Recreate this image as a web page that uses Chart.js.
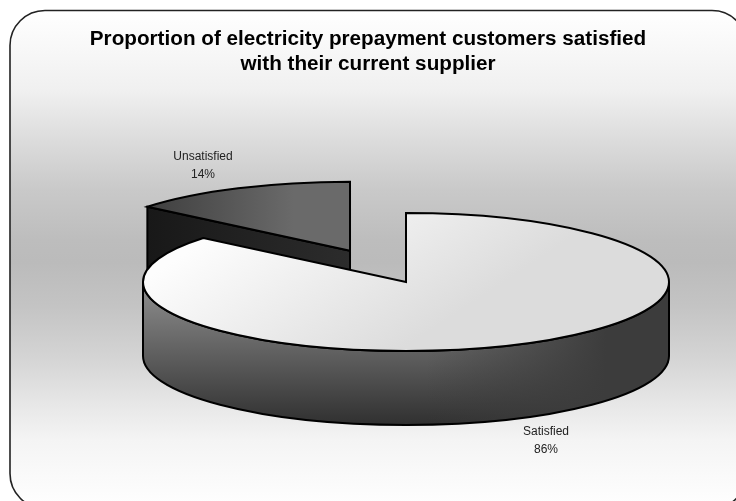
<!DOCTYPE html>
<html>
<head>
<meta charset="utf-8">
<title>Prepayment customers</title>
<script src="https://cdn.jsdelivr.net/npm/chart.js@4/dist/chart.umd.min.js"></script>
<style>
  html, body { margin: 0; padding: 0; background: #fff; }
  canvas { display: block; }
</style>
</head>
<body>
<canvas id="myChart" width="736" height="501"></canvas>
<script>
const categorias = ["Satisfied", "Unsatisfied"];
const valores = [86, 14];
const titulo = ["Proportion of electricity prepayment customers satisfied", "with their current supplier"];

// Geometria del pastel 3D (centro en pantalla, radios y grosor)
const PIE_CX = 406;
const PIE_CY = 282;
const PIE_R = 263;
const PIE_RY = 69;
const DEPTH = 74;
const EXPLODE = 0.5; // solo Unsatisfied va separado
const K = PIE_RY / PIE_R;

function offsetDe(arc, i) {
  if (i === 0) return { x: 0, y: 0 };
  const mid = (arc.startAngle + arc.endAngle) / 2;
  return { x: Math.cos(mid) * PIE_R * EXPLODE, y: Math.sin(mid) * PIE_RY * EXPLODE };
}

function gradienteCara(ctx, i, arc) {
  // y de pantalla -> y sin aplastar, porque la cara se pinta dentro del scale
  const sinAplastar = (y) => arc.y + (y - PIE_CY) / K;
  let g;
  if (i === 0) {
    const x0 = 205 - PIE_CX + arc.x;
    const y0 = sinAplastar(240);
    g = ctx.createLinearGradient(x0, y0, x0 + 313, y0 + 125);
    g.addColorStop(0, "#fdfdfd");
    g.addColorStop(1, "#dcdcdc");
  } else {
    g = ctx.createLinearGradient(147 - PIE_CX + arc.x, 0, 350 - PIE_CX + arc.x, 0);
    g.addColorStop(0, "#2e2e2e");
    g.addColorStop(1, "#6a6a6a");
  }
  return g;
}

function paredExterior(ctx, cx, cy, a0, a1) {
  ctx.beginPath();
  ctx.ellipse(cx, cy, PIE_R, PIE_RY, 0, a0, a1);
  ctx.ellipse(cx, cy + DEPTH, PIE_R, PIE_RY, 0, a1, a0, true);
  ctx.closePath();

  const v = ctx.createLinearGradient(0, cy + 5, 0, cy + PIE_RY + DEPTH);
  v.addColorStop(0, "#8c8c8c");
  v.addColorStop(1, "#303030");
  ctx.fillStyle = v;
  ctx.fill();

  const h = ctx.createLinearGradient(cx + 20, 0, cx + 200, 0);
  h.addColorStop(0, "rgba(60,60,60,0)");
  h.addColorStop(1, "rgba(60,60,60,1)");
  ctx.fillStyle = h;
  ctx.fill();
  ctx.stroke();
}

function paredCorte(ctx, cx, cy, a) {
  const x = cx + Math.cos(a) * PIE_R;
  const y = cy + Math.sin(a) * PIE_RY;
  const g = ctx.createLinearGradient(x, 0, cx, 0);
  g.addColorStop(0, "#181818");
  g.addColorStop(1, "#2c2c2c");
  ctx.beginPath();
  ctx.moveTo(cx, cy);
  ctx.lineTo(x, y);
  ctx.lineTo(x, y + DEPTH);
  ctx.lineTo(cx, cy + DEPTH);
  ctx.closePath();
  ctx.fillStyle = g;
  ctx.fill();
  ctx.stroke();
}

const pastel3d = {
  id: "pastel3d",
  beforeDraw(chart) {
    const ctx = chart.ctx;
    ctx.save();
    ctx.beginPath();
    ctx.roundRect(10, 10.5, 737, 498, 35);
    const g = ctx.createLinearGradient(0, 11, 0, 509);
    g.addColorStop(0, "#ffffff");
    g.addColorStop(0.159, "#f0f0f0");
    g.addColorStop(0.259, "#dcdcdc");
    g.addColorStop(0.359, "#c9c9c9");
    g.addColorStop(0.46, "#bdbdbd");
    g.addColorStop(0.504, "#bbbbbb");
    g.addColorStop(0.594, "#c4c4c4");
    g.addColorStop(0.695, "#d4d4d4");
    g.addColorStop(0.795, "#e8e8e8");
    g.addColorStop(0.861, "#f4f4f4");
    g.addColorStop(0.962, "#fcfcfc");
    g.addColorStop(1, "#ffffff");
    ctx.fillStyle = g;
    ctx.fill();
    ctx.lineWidth = 1.6;
    ctx.strokeStyle = "#222";
    ctx.stroke();
    ctx.restore();
  },
  beforeDatasetsDraw(chart) {
    const ctx = chart.ctx;
    const arcs = chart.getDatasetMeta(0).data;
    ctx.save();
    ctx.lineWidth = 2;
    ctx.strokeStyle = "#000";
    ctx.lineJoin = "miter";
    // Unsatisfied queda detras, se pinta primero
    for (let i = arcs.length - 1; i >= 0; i--) {
      const arc = arcs[i];
      const off = offsetDe(arc, i);
      const cx = PIE_CX + off.x;
      const cy = PIE_CY + off.y;

      const a0 = Math.max(arc.startAngle, 0);
      const a1 = Math.min(arc.endAngle, Math.PI);
      if (a1 > a0) paredExterior(ctx, cx, cy, a0, a1);
      if (-Math.cos(arc.startAngle) > 0.01) paredCorte(ctx, cx, cy, arc.startAngle);

      ctx.save();
      ctx.translate(cx, cy);
      ctx.scale(1, K);
      ctx.translate(-arc.x, -arc.y);
      arc.draw(ctx);
      ctx.restore();

      ctx.beginPath();
      ctx.moveTo(cx, cy);
      ctx.ellipse(cx, cy, PIE_R, PIE_RY, 0, arc.startAngle, arc.endAngle);
      ctx.closePath();
      ctx.stroke();
    }
    ctx.restore();
    return false;
  },
  afterDraw(chart) {
    const ctx = chart.ctx;
    const arcs = chart.getDatasetMeta(0).data;
    const total = valores.reduce((a, b) => a + b, 0);
    ctx.save();
    ctx.font = '12px "Liberation Sans", Arial, sans-serif';
    ctx.fillStyle = "#222";
    ctx.textAlign = "center";
    ctx.textBaseline = "middle";
    arcs.forEach((arc, i) => {
      const off = offsetDe(arc, i);
      const mid = (arc.startAngle + arc.endAngle) / 2;
      const baseX = PIE_CX + off.x + Math.cos(mid) * PIE_R;
      const baseY = PIE_CY + off.y + Math.sin(mid) * PIE_RY + (i === 0 ? DEPTH : 0);
      const x = baseX + (i === 0 ? 28 : -35);
      const y = baseY + (i === 0 ? 13 : -32);
      ctx.fillText(categorias[i], x, y);
      ctx.fillText(Math.round((valores[i] / total) * 100) + "%", x, y + 18);
    });
    ctx.restore();
  },
};

const ctx = document.getElementById("myChart").getContext("2d");

const myChart = new Chart(ctx, {
  type: "pie",
  plugins: [pastel3d],
  data: {
    labels: categorias,
    datasets: [
      {
        data: valores,
        borderWidth: 0,
        backgroundColor: (c) => {
          const arc = c.chart.getDatasetMeta(0).data[c.dataIndex];
          if (!arc || arc.x === undefined) return "#ddd";
          return gradienteCara(c.chart.ctx, c.dataIndex, arc);
        },
      },
    ],
  },
  options: {
    responsive: false,
    animation: false,
    radius: PIE_R,
    plugins: {
      legend: { display: false },
      tooltip: { enabled: false },
      title: {
        display: true,
        text: titulo,
        color: "#000",
        font: { family: '"Liberation Sans", Arial, sans-serif', size: 20.7, weight: "bold", lineHeight: 1.21 },
        padding: { top: 27, bottom: 10 },
      },
    },
  },
});
myChart.update();
</script>
</body>
</html>
